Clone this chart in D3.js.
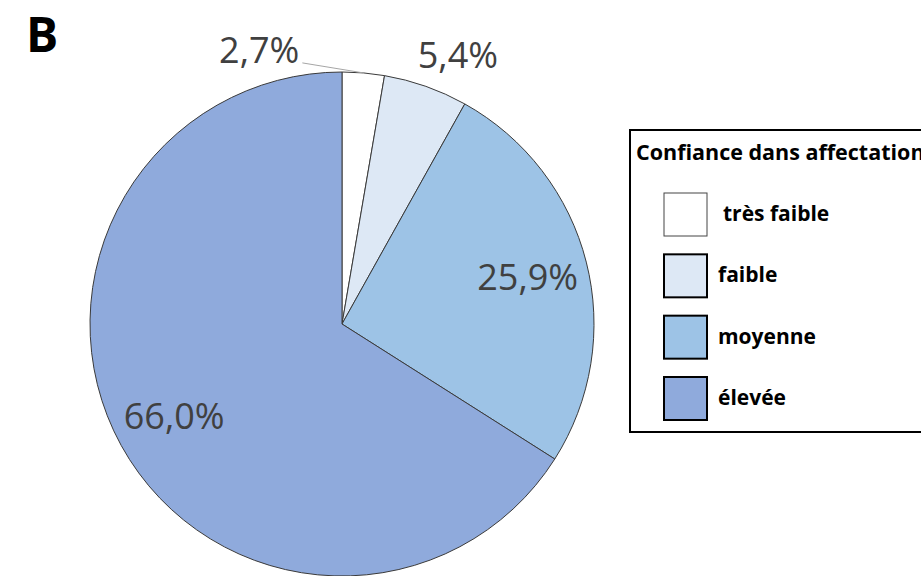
<!DOCTYPE html>
<html>
<head>
<meta charset="utf-8">
<script src="https://cdn.jsdelivr.net/npm/d3@7"></script>
<style>
  html, body { margin: 0; padding: 0; background: #fff; }
  svg { display: block; }
</style>
</head>
<body>
<svg id="chart" width="921" height="576"></svg>
<script>
// categories and shares (percent), clockwise from 12 o'clock
const categories = ['très faible', 'faible', 'moyenne', 'élevée'];
const shares = [2.7, 5.4, 25.9, 66.0];
const colors = ['#ffffff', '#dde8f5', '#9dc3e6', '#8faadc'];
const legendTitle = 'Confiance dans affectation';
const panelLetter = 'B';

const svg = d3.select('#chart');
const cx = 342, cy = 324, R = 252;

// panel letter
svg.append('text')
  .attr('x', 26).attr('y', 52)
  .attr('font-family', 'Open Sans, sans-serif')
  .attr('font-weight', 700)
  .attr('font-size', 48)
  .text(panelLetter);

const data = categories.map((c, i) => ({ name: c, value: shares[i], color: colors[i] }));

const pie = d3.pie().value(d => d.value).sort(null);
const arcs = pie(data);
const arc = d3.arc().innerRadius(0).outerRadius(R);
const labelArc = d3.arc().innerRadius(R * 0.76).outerRadius(R * 0.76);
const rimArc = d3.arc().innerRadius(R).outerRadius(R);

const g = svg.append('g').attr('transform', `translate(${cx},${cy})`);

g.selectAll('path.slice')
  .data(arcs)
  .enter().append('path')
  .attr('class', 'slice')
  .attr('d', arc)
  .attr('fill', d => d.data.color)
  .attr('stroke', '#3a3a3a')
  .attr('stroke-width', 1);

const fmt = v => d3.format('.1f')(v).replace('.', ',') + '%';

// labels: big slices inside, small ones outside
arcs.forEach((d, i) => {
  const pct = d.data.value;
  const txt = g.append('text')
    .attr('font-family', 'Open Sans, sans-serif')
    .attr('font-size', 36)
    .attr('fill', '#404040')
    .text(fmt(pct));
  if (pct >= 10) {
    const [x, y] = labelArc.centroid(d);
    txt.attr('x', x).attr('y', y).attr('dy', '0.36em').attr('text-anchor', 'middle');
  } else {
    const [rx, ry] = rimArc.centroid(d);
    if (i === 0) {
      // pushed to the left with a leader line
      txt.attr('x', rx - 64).attr('y', ry - 10).attr('text-anchor', 'end');
      g.append('line')
        .attr('x1', rx - 61).attr('y1', ry - 10)
        .attr('x2', rx).attr('y2', ry)
        .attr('stroke', '#a6a6a6')
        .attr('stroke-width', 1);
    } else {
      txt.attr('x', rx + 32).attr('y', ry - 18).attr('text-anchor', 'middle');
    }
  }
});

// legend
const lg = svg.append('g');
lg.append('rect')
  .attr('x', 630).attr('y', 130)
  .attr('width', 320).attr('height', 302)
  .attr('fill', '#fff')
  .attr('stroke', '#000')
  .attr('stroke-width', 2);

lg.append('text')
  .attr('x', 636).attr('y', 160)
  .attr('font-family', 'Open Sans, sans-serif')
  .attr('font-weight', 700)
  .attr('font-size', 21.5)
  .attr('fill', '#000')
  .text(legendTitle);

const ly = d3.scaleLinear().domain([0, categories.length - 1]).range([193, 377]);

const items = lg.selectAll('g.item')
  .data(data)
  .enter().append('g')
  .attr('class', 'item')
  .attr('transform', (d, i) => `translate(0,${ly(i)})`);

items.append('rect')
  .attr('x', 664).attr('y', 0)
  .attr('width', 43).attr('height', 43)
  .attr('fill', d => d.color)
  .attr('stroke', (d, i) => i === 0 ? '#444' : '#000')
  .attr('stroke-width', (d, i) => i === 0 ? 1 : 2);

items.append('text')
  .attr('x', (d, i) => i === 0 ? 723 : 718)
  .attr('y', 28)
  .attr('font-family', 'Open Sans, sans-serif')
  .attr('font-weight', 700)
  .attr('font-size', 21)
  .attr('fill', '#000')
  .text(d => d.name);
</script>
</body>
</html>
